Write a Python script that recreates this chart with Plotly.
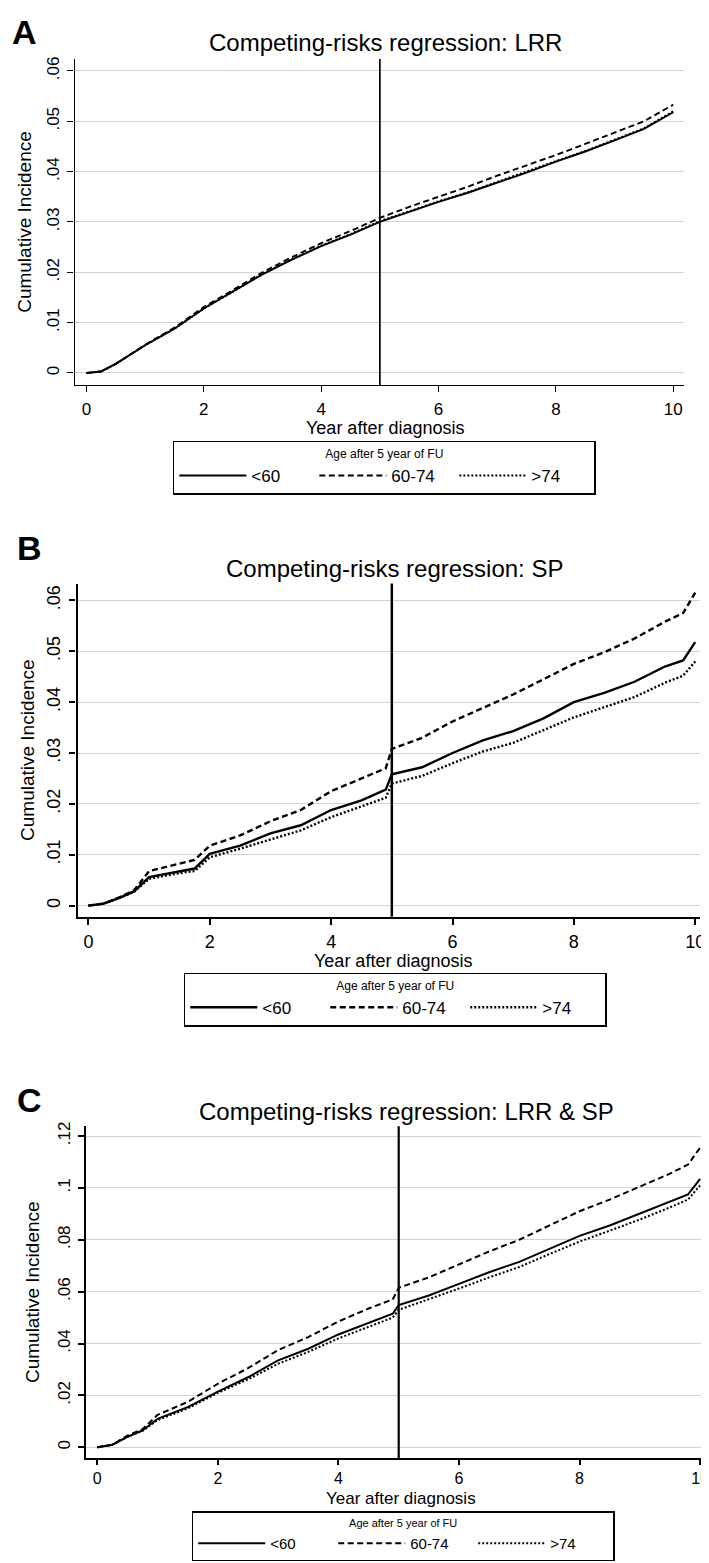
import plotly.graph_objects as go

# ---------------- data ----------------
groups = ["<60", "60-74", ">74"]
legend_title = "Age after 5 year of FU"
x_title = "Year after diagnosis"
y_title = "Cumulative Incidence"
titles = ["Competing-risks regression: LRR",
          "Competing-risks regression: SP",
          "Competing-risks regression: LRR & SP"]
panel_letters = ["A", "B", "C"]

x_ticks = [0, 2, 4, 6, 8, 10]
y_ticks_ab = [0, 0.01, 0.02, 0.03, 0.04, 0.05, 0.06]
y_ticktext_ab = ["0", ".01", ".02", ".03", ".04", ".05", ".06"]
y_ticks_c = [0, 0.02, 0.04, 0.06, 0.08, 0.10, 0.12]
y_ticktext_c = ["0", ".02", ".04", ".06", ".08", ".1", ".12"]

# Panel A: LRR
t_a = [0, 0.25, 0.5, 1, 1.5, 2, 2.5, 3, 3.5, 4, 4.5, 5, 5.5, 6, 6.5, 7, 7.5, 8, 8.5, 9, 9.5, 10]
a_lt60 = [0, 0.0003, 0.0018, 0.0055, 0.0088, 0.0128, 0.0162, 0.0196, 0.0225, 0.0252, 0.0275, 0.0300,
          0.0320, 0.0340, 0.0358, 0.0378, 0.0398, 0.0420, 0.0440, 0.0462, 0.0485, 0.0518]
a_60_74 = [0, 0.0003, 0.0018, 0.0056, 0.0090, 0.0131, 0.0165, 0.0200, 0.0230, 0.0258, 0.0282, 0.0308,
           0.0330, 0.0350, 0.0370, 0.0392, 0.0412, 0.0433, 0.0455, 0.0477, 0.0500, 0.0533]
a_gt74 = [0, 0.0003, 0.0018, 0.0055, 0.0088, 0.0128, 0.0162, 0.0197, 0.0226, 0.0253, 0.0276, 0.0302,
          0.0321, 0.0341, 0.0359, 0.0380, 0.0400, 0.0421, 0.0441, 0.0463, 0.0486, 0.0520]

# Panel B: SP
t_b = [0, 0.25, 0.5, 0.75, 1, 1.5, 1.75, 2, 2.5, 3, 3.5, 4, 4.5, 4.9, 5, 5.5, 6, 6.5, 7, 7.5, 8,
       8.5, 9, 9.5, 9.8, 10]
b_lt60 = [0, 0.0004, 0.0015, 0.0028, 0.0056, 0.0068, 0.0073, 0.0102, 0.0118, 0.0142, 0.0158, 0.0188,
          0.0207, 0.0228, 0.0258, 0.0272, 0.0300, 0.0325, 0.0343, 0.0368, 0.0400, 0.0418, 0.0440,
          0.0470, 0.0482, 0.0518]
b_60_74 = [0, 0.0004, 0.0016, 0.0030, 0.0068, 0.0082, 0.0090, 0.0118, 0.0138, 0.0166, 0.0188, 0.0225,
           0.0250, 0.0270, 0.0308, 0.0330, 0.0362, 0.0388, 0.0415, 0.0445, 0.0475, 0.0498, 0.0525,
           0.0558, 0.0575, 0.0615]
b_gt74 = [0, 0.0004, 0.0015, 0.0027, 0.0053, 0.0064, 0.0068, 0.0095, 0.0112, 0.0130, 0.0148, 0.0174,
          0.0195, 0.0212, 0.0240, 0.0255, 0.0280, 0.0303, 0.0320, 0.0345, 0.0370, 0.0390, 0.0410,
          0.0438, 0.0452, 0.0480]

# Panel C: LRR & SP
t_c = [0, 0.25, 0.5, 0.75, 1, 1.5, 2, 2.5, 3, 3.5, 4, 4.5, 4.9, 5, 5.5, 6, 6.5, 7, 7.5, 8, 8.5, 9,
       9.5, 9.8, 10]
c_lt60 = [0, 0.001, 0.004, 0.0065, 0.011, 0.0155, 0.0215, 0.027, 0.0335, 0.038, 0.0435, 0.048, 0.0515,
          0.0548, 0.0585, 0.063, 0.0675, 0.0715, 0.0765, 0.0815, 0.0855, 0.090, 0.0945, 0.0975, 0.1035]
c_60_74 = [0, 0.001, 0.0045, 0.007, 0.0125, 0.0175, 0.0245, 0.0305, 0.0375, 0.0425, 0.0485, 0.0535,
           0.057, 0.0615, 0.0655, 0.0705, 0.0755, 0.080, 0.0855, 0.091, 0.0955, 0.1005, 0.1055, 0.109,
           0.1155]
c_gt74 = [0, 0.001, 0.004, 0.0063, 0.0105, 0.015, 0.021, 0.0262, 0.0322, 0.0368, 0.042, 0.0465, 0.0500,
          0.0530, 0.057, 0.0612, 0.0655, 0.0695, 0.0745, 0.0793, 0.0835, 0.0878, 0.0925, 0.0955, 0.1010]

cutoff_year = 5

# ---------------- layout helpers ----------------
W, H = 709, 1563
FONT = "Liberation Sans, Arial, Helvetica, sans-serif"


def py(px):
    return 1 - px / H


def pxx(px):
    return px / W


panels = [
    dict(t=t_a, series=[a_lt60, a_60_74, a_gt74], xdom=(pxx(67), pxx(681)), ydom=(py(374), py(47)),
         xr=[-0.203, 10.186], yr=[-0.0024, 0.0624], yt=y_ticks_ab, ytt=y_ticktext_ab,
         lw=1.9, tickfs=17, ytickfs=17, title_xy=(380, 31), letter_xy=(17, 20),
         ytitle_x=17, xtitle_y=417, xtitle_x=380, xtitle_fs=18, leg=(379, 430), lwid=1.4,
         legfs=17, legtfs=12, tlso=2, tlen=6),
    dict(t=t_b, series=[b_lt60, b_60_74, b_gt74], xdom=(pxx(70), pxx(697)), ydom=(py(907), py(573)),
         xr=[-0.18, 10.08], yr=[-0.00216, 0.0633], yt=y_ticks_ab, ytt=y_ticktext_ab,
         lw=2.4, tickfs=18, ytickfs=18, title_xy=(389, 558), letter_xy=(22, 537),
         ytitle_x=19, xtitle_y=951, xtitle_x=388, xtitle_fs=18, leg=(390, 963), lwid=2.2,
         legfs=17, legtfs=12, tlso=2, tlen=6),
    dict(t=t_c, series=[c_lt60, c_60_74, c_gt74], xdom=(pxx(79), 1.0), ydom=(py(1450), py(1117)),
         xr=[-0.18, 10.197], yr=[-0.00423, 0.1238], yt=y_ticks_c, ytt=y_ticktext_c,
         lw=2.0, tickfs=16, ytickfs=17, title_xy=(401, 1102), letter_xy=(22, 1091),
         ytitle_x=24, xtitle_y=1490, xtitle_x=396, xtitle_fs=17, leg=(398, 1503), lwid=1.9,
         legfs=15, legtfs=11, tlso=0, tlen=5),
]

dashes = ["solid", "6px,3.5px", "2px,2px"]

fig = go.Figure()
layout = dict(width=W, height=H, margin=dict(l=0, r=0, t=0, b=0),
              paper_bgcolor="white", plot_bgcolor="white",
              font=dict(family=FONT, color="black"), showlegend=True)
annotations = []
shapes = []

for i, p in enumerate(panels):
    k = "" if i == 0 else str(i + 1)
    xa, ya = "x" + k, "y" + k
    legname = "legend" + k
    for g, vals, dash in zip(groups, p["series"], dashes):
        fig.add_trace(go.Scatter(x=p["t"], y=vals, mode="lines", name=g,
                                 line=dict(color="black", width=p["lw"], dash=dash),
                                 xaxis=xa, yaxis=ya, legend=legname, hoverinfo="skip"))
    layout["xaxis" + k] = dict(domain=list(p["xdom"]), anchor=ya, range=p["xr"],
                               tickvals=x_ticks, showgrid=False, zeroline=False,
                               showline=True, linecolor="black", linewidth=p["lwid"],
                               ticks="outside", ticklen=p["tlen"], tickwidth=p["lwid"],
                               tickcolor="black",
                               ticklabelstandoff=p["tlso"], ticklabeloverflow="allow",
                               tickfont=dict(size=p["tickfs"], family=FONT))
    layout["yaxis" + k] = dict(domain=list(p["ydom"]), anchor=xa, range=p["yr"],
                               tickvals=p["yt"], ticktext=p["ytt"], tickangle=-90,
                               showgrid=True, gridcolor="#d2d2d2", gridwidth=1.3, zeroline=False,
                               showline=True, linecolor="black", linewidth=p["lwid"],
                               ticks="outside", ticklen=6, tickwidth=p["lwid"], tickcolor="black",
                               ticklabelstandoff=2,
                               tickfont=dict(size=p["ytickfs"], family=FONT))
    shapes.append(dict(type="line", xref=xa, yref=ya + " domain", x0=cutoff_year, x1=cutoff_year,
                       y0=0, y1=1, line=dict(color="black", width=p["lwid"] + 0.3)))
    tx, ty = p["title_xy"]
    annotations.append(dict(text=titles[i], x=pxx(tx), y=py(ty), xref="paper", yref="paper",
                            xanchor="center", yanchor="middle", showarrow=False,
                            font=dict(size=24, family=FONT)))
    lx, ly = p["letter_xy"]
    annotations.append(dict(text="<b>" + panel_letters[i] + "</b>", x=pxx(lx), y=py(ly),
                            xref="paper", yref="paper", xanchor="center", yanchor="middle",
                            showarrow=False, font=dict(size=34, family=FONT)))
    annotations.append(dict(text=y_title, x=pxx(p["ytitle_x"]),
                            y=(p["ydom"][0] + p["ydom"][1]) / 2, xref="paper", yref="paper",
                            xanchor="center", yanchor="middle", textangle=-90, showarrow=False,
                            font=dict(size=19, family=FONT)))
    annotations.append(dict(text=x_title, x=pxx(p["xtitle_x"]),
                            y=py(p["xtitle_y"]), xref="paper", yref="paper",
                            xanchor="center", yanchor="middle", showarrow=False,
                            font=dict(size=p["xtitle_fs"], family=FONT)))
    lgx, lgy = p["leg"]
    layout[legname] = dict(x=pxx(lgx), y=py(lgy), xanchor="center", yanchor="top",
                           orientation="h", bgcolor="white", bordercolor="black",
                           borderwidth=1.5, itemwidth=67, entrywidth=58,
                           title=dict(text=legend_title, side="top center",
                                      font=dict(size=p["legtfs"], family=FONT)),
                           font=dict(size=p["legfs"], family=FONT), itemclick=False)

layout["annotations"] = annotations
layout["shapes"] = shapes
fig.update_layout(**layout)
fig.write_html("out.html")
